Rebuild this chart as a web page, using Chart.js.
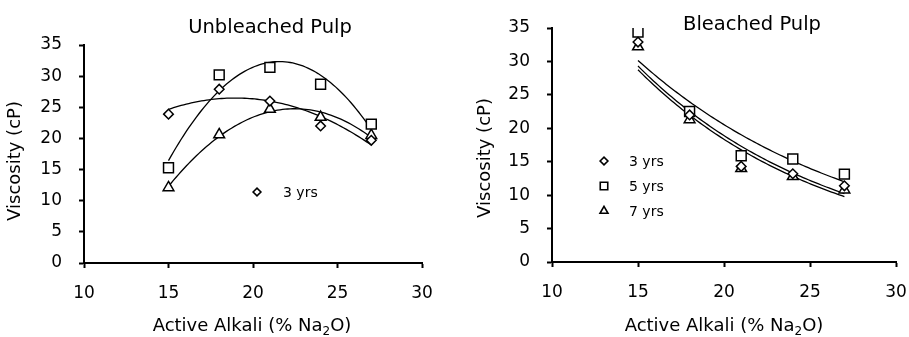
<!DOCTYPE html>
<html>
<head>
<meta charset="utf-8">
<script src="https://cdn.jsdelivr.net/npm/chart.js@4.4.1/dist/chart.umd.min.js"></script>
<style>
  html, body { margin: 0; padding: 0; background: #fff; overflow: hidden; width: 909px; height: 337px; }
  .panel { position: absolute; top: 0; height: 337px; }
  #left { left: 0; width: 455px; }
  /* wider than the window so the "30" label can sit near the edge */
  #right { left: 455px; width: 474px; }
</style>
</head>
<body>
<div class="panel" id="left"><canvas id="unbleached"></canvas></div>
<div class="panel" id="right"><canvas id="bleached"></canvas></div>
<script>
// Active alkali charge (% Na2O)
const alkali = [15, 18, 21, 24, 27];
const seriesNames = ["3 yrs", "5 yrs", "7 yrs"];

// Viscosity (cP), unbleached pulp
const unbleached3 = [23.9, 27.9, 26.0, 22.0, 19.7];
const unbleached5 = [15.3, 30.2, 31.4, 28.7, 22.3];
const unbleached7 = [12.1, 20.6, 24.7, 23.4, 20.5];

// Viscosity (cP), bleached pulp
const bleached3 = [32.9, 22.0, 14.3, 13.2, 11.4];
const bleached5 = [34.4, 22.5, 15.9, 15.4, 13.15];
const bleached7 = [32.2, 21.3, 14.0, 12.8, 10.8];

const xTickValues = [10, 15, 20, 25, 30];
const yTickValues = [0, 5, 10, 15, 20, 25, 30, 35];

const FONT = "'DejaVu Sans', sans-serif";
Chart.defaults.font.family = FONT;
Chart.defaults.color = "#000";

const markers = [
  { style: "rectRot", radius: 4.8, legendRadius: 3.9 },
  { style: "rect", radius: 7, legendRadius: 5.3 },
  { style: "triangle", radius: 6.2, legendRadius: 4.6 },
];

// least squares y = a + b*t + c*t^2 with t = x - mean(x)
function quadFit(xs, ys) {
  const n = xs.length;
  const mx = xs.reduce((s, v) => s + v, 0) / n;
  let s2 = 0, s3 = 0, s4 = 0, t0 = 0, t1 = 0, t2 = 0;
  xs.forEach((x, i) => {
    const t = x - mx;
    s2 += t * t; s3 += t * t * t; s4 += t * t * t * t;
    t0 += ys[i]; t1 += t * ys[i]; t2 += t * t * ys[i];
  });
  // normal equations (s1 = 0 because t is centred)
  const m = [[n, 0, s2, t0], [0, s2, s3, t1], [s2, s3, s4, t2]];
  for (let i = 0; i < 3; i++) {
    for (let k = i + 1; k < 3; k++) {
      const f = m[k][i] / m[i][i];
      for (let j = i; j < 4; j++) m[k][j] -= f * m[i][j];
    }
  }
  const c = m[2][3] / m[2][2];
  const b = (m[1][3] - m[1][2] * c) / m[1][1];
  const a = (m[0][3] - m[0][1] * b - m[0][2] * c) / m[0][0];
  return (x) => a + b * (x - mx) + c * (x - mx) * (x - mx);
}

// least squares on ln(y): y = A * exp(B*x)
function expFit(xs, ys) {
  const n = xs.length;
  const ly = ys.map((v) => Math.log(v));
  const mx = xs.reduce((s, v) => s + v, 0) / n;
  const my = ly.reduce((s, v) => s + v, 0) / n;
  let sxy = 0, sxx = 0;
  xs.forEach((x, i) => {
    sxy += (x - mx) * (ly[i] - my);
    sxx += (x - mx) * (x - mx);
  });
  const B = sxy / sxx;
  return (x) => Math.exp(my + B * (x - mx));
}

// trendlines drawn under the markers
const trendPlugin = {
  id: "trend",
  beforeDatasetsDraw(chart, args, opts) {
    const { ctx, scales } = chart;
    ctx.save();
    ctx.strokeStyle = "#000";
    ctx.lineWidth = 1.3;
    chart.data.datasets.forEach((ds) => {
      const xs = ds.data.map((p) => p.x);
      const ys = ds.data.map((p) => p.y);
      const f = opts.kind === "exp" ? expFit(xs, ys) : quadFit(xs, ys);
      const x0 = Math.min(...xs), x1 = Math.max(...xs);
      ctx.beginPath();
      for (let i = 0; i <= 80; i++) {
        const x = x0 + (x1 - x0) * i / 80;
        const px = scales.x.getPixelForValue(x);
        const py = scales.y.getPixelForValue(f(x));
        if (i === 0) ctx.moveTo(px, py); else ctx.lineTo(px, py);
      }
      ctx.stroke();
    });
    ctx.restore();
  },
};

// titles, axis titles and the marker legend
const textPlugin = {
  id: "texts",
  afterDraw(chart, args, opts) {
    const { ctx } = chart;
    ctx.save();
    ctx.fillStyle = "#000";

    ctx.font = "19.5px " + FONT;
    ctx.textAlign = "center";
    ctx.textBaseline = "alphabetic";
    ctx.fillText(opts.title, opts.titleX, opts.titleY);

    // y axis title
    ctx.font = "18px " + FONT;
    ctx.save();
    ctx.translate(opts.yTitleX, opts.yTitleY);
    ctx.rotate(-Math.PI / 2);
    ctx.fillText("Viscosity (cP)", 0, 0);
    ctx.restore();

    // x axis title with subscript
    const parts = [["Active Alkali (% Na", false], ["2", true], ["O)", false]];
    const big = "18px " + FONT, small = "12px " + FONT;
    let total = 0;
    parts.forEach(([t, sub]) => { ctx.font = sub ? small : big; total += ctx.measureText(t).width; });
    let x = opts.xTitleX - total / 2;
    ctx.textAlign = "left";
    parts.forEach(([t, sub]) => {
      ctx.font = sub ? small : big;
      ctx.fillText(t, x, opts.xTitleY + (sub ? 4 : 0));
      x += ctx.measureText(t).width;
    });

    // legend
    ctx.font = "14px " + FONT;
    ctx.textBaseline = "middle";
    opts.legendItems.forEach((idx, row) => {
      const y = opts.legendY + row * 25;
      const m = markers[idx];
      ctx.strokeStyle = "#000";
      ctx.fillStyle = "#fff";
      ctx.lineWidth = 1.6;
      Chart.helpers.drawPoint(ctx, { pointStyle: m.style, radius: m.legendRadius, borderWidth: 1.6, rotation: 0 }, opts.legendX, y);
      ctx.fillStyle = "#000";
      ctx.fillText(seriesNames[idx], opts.legendTextX, y + 1);
    });
    ctx.restore();
  },
};

function buildDatasets(seriesList) {
  return seriesList.map((values, i) => ({
    label: seriesNames[i],
    data: alkali.map((x, j) => ({ x, y: values[j] })),
    pointStyle: markers[i].style,
    pointRadius: markers[i].radius,
    pointBorderWidth: 1.5,
    pointBorderColor: "#000",
    pointBackgroundColor: "#fff",
    showLine: false,
  }));
}

function axis(min, max, fixedSize, horizontal, ticksList) {
  return {
    type: "linear",
    min,
    max,
    afterBuildTicks: (scale) => { scale.ticks = ticksList.map((v) => ({ value: v })); },
    afterFit: (scale) => {
      if (horizontal) scale.height = fixedSize; else scale.width = fixedSize;
    },
    ticks: {
      color: "#000",
      font: { family: FONT, size: 17 },
      padding: horizontal ? 15 : 17,
      maxRotation: 0,
    },
    grid: {
      drawOnChartArea: false,
      drawTicks: true,
      tickLength: 5,
      tickColor: "#000",
      tickWidth: 2,
    },
    border: { display: true, color: "#000", width: 2 },
  };
}

function makeChart(canvasId, seriesList, layout, textOpts, kind) {
  return new Chart(document.getElementById(canvasId), {
    type: "scatter",
    data: { datasets: buildDatasets(seriesList) },
    options: {
      responsive: true,
      maintainAspectRatio: false,
      animation: false,
      layout: { padding: { left: 0, top: layout.top, right: layout.right, bottom: 0 } },
      scales: {
        x: axis(10, 30, layout.xHeight, true, xTickValues),
        y: axis(0, 35, layout.yWidth, false, yTickValues),
      },
      plugins: {
        legend: { display: false },
        title: { display: false },
        tooltip: { enabled: false },
        trend: { kind },
        texts: textOpts,
      },
    },
    plugins: [trendPlugin, textPlugin],
  });
}

makeChart("unbleached", [unbleached3, unbleached5, unbleached7],
  { top: 45, right: 33, xHeight: 74, yWidth: 84 },
  {
    title: "Unbleached Pulp", titleX: 270, titleY: 33,
    yTitleX: 20, yTitleY: 161,
    xTitleX: 252, xTitleY: 331,
    legendItems: [0], legendX: 257, legendY: 192, legendTextX: 283,
  }, "quad");

makeChart("bleached", [bleached3, bleached5, bleached7],
  { top: 28, right: 33, xHeight: 75, yWidth: 97 },
  {
    title: "Bleached Pulp", titleX: 297, titleY: 30,
    yTitleX: 35, yTitleY: 158,
    xTitleX: 269, xTitleY: 331,
    legendItems: [0, 1, 2], legendX: 149, legendY: 161, legendTextX: 174,
  }, "exp");
</script>
</body>
</html>
